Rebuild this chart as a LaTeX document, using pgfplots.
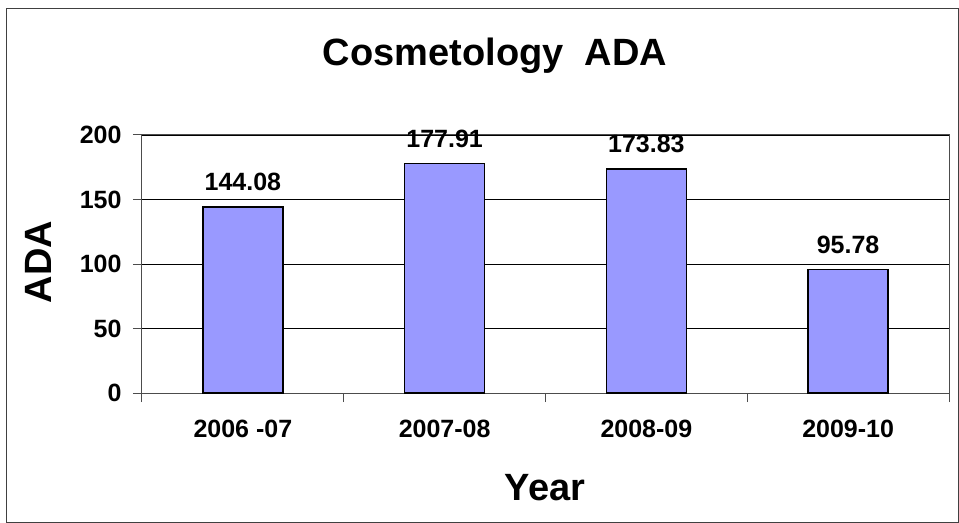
\documentclass[border=0pt]{standalone}
\usepackage{pgfplots}
\pgfplotsset{compat=1.18}
\usepackage{fontspec}
\setmainfont{Liberation Sans}
\definecolor{barblue}{HTML}{9999FF}
\newcommand{\tickfont}{\fontsize{25bp}{28bp}\selectfont\bfseries}
\newcommand{\bigfont}{\fontsize{38bp}{42bp}\selectfont\bfseries}
\begin{document}
\begin{tikzpicture}
% page = 959 x 523 bp, axis box lower left at pixel (142,393)
\path[fill=white] (-142bp,-130bp) rectangle (817bp,393bp);
\draw[black!75, line width=1bp] (-135bp,-129bp) rectangle (816bp,384bp);
\begin{axis}[
  scale only axis,
  width=807bp, height=258bp,
  ybar, bar width=80bp,
  xmin=-0.5, xmax=3.5,
  ymin=0, ymax=200,
  ytick={0,50,100,150,200},
  xtick={0,1,2,3},
  xticklabels={2006 -07, 2007-08, 2008-09, 2009-10},
  minor xtick={-0.5,0.5,1.5,2.5,3.5},
  major x tick style={draw=none},
  tick align=outside,
  xtick pos=bottom, ytick pos=left,
  major tick length=9bp, minor tick length=9bp,
  tick style={black!70, line width=1bp},
  axis line style={black!70, line width=1bp},
  ymajorgrids,
  major grid style={black, line width=0.9bp},
  /pgf/number format/assume math mode=true,
  ticklabel style={font=\tickfont},
  yticklabel style={xshift=-8bp},
  xticklabel style={yshift=-15bp},
  nodes near coords,
  nodes near coords style={font=\tickfont, yshift=12bp,
    /pgf/number format/.cd, fixed, fixed zerofill, precision=2, assume math mode=true},
]
\addplot[fill=barblue, draw=black, line width=1.5bp]
  coordinates {(0,144.08) (1,177.91) (2,173.83) (3,95.78)};
\end{axis}
\node[font=\bigfont] at (353bp,337bp) {Cosmetology~~ADA};
\node[font=\bigfont] at (403bp,-95bp) {Year};
\node[font=\bigfont, rotate=90] at (-104bp,131bp) {ADA};
\end{tikzpicture}
\end{document}
